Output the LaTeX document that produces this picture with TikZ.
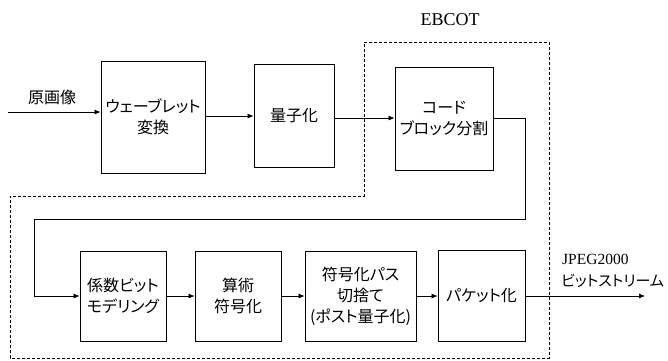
\documentclass[tikz,border=0pt]{standalone}
\usepackage{fontspec}
\setmainfont{Liberation Serif}
\newfontfamily\jp[RawFeature=+palt]{Noto Sans CJK JP}
\usetikzlibrary{arrows.meta}
\begin{document}
\begin{tikzpicture}[x=1pt,y=-1pt,
  blk/.style={draw,line width=0.8pt,inner sep=0pt,align=center,font=\jp\fontsize{16}{21}\selectfont},
  conn/.style={line width=0.7pt,-{Latex[length=6pt,width=5pt]}},
  lbl/.style={inner sep=0pt,font=\jp\fontsize{16}{20}\selectfont},
  ebc/.style={draw,line width=0.7pt,dash pattern=on 3pt off 2pt}]
\useasboundingbox (0,0) rectangle (668,360);
% EBCOT region
\draw[ebc] (364,42) -- (549,42) -- (549,358) -- (10,358) -- (10,196) -- (364,196) -- cycle;
\node[inner sep=0pt,font=\fontsize{18}{20}\selectfont] (ebt) at (450,20) {EBCOT};
% boxes
\node[blk,minimum width=104,minimum height=112] (wav) at (153,117) {ウェーブレット\\変換};
\node[blk,minimum width=80,minimum height=103] (qnt) at (294,115.5) {量子化};
\node[blk,minimum width=98,minimum height=103] (cbk) at (444,118.5) {コード\\ブロック分割};
\node[blk,minimum width=86,minimum height=90] (coef) at (123,296) {係数ビット\\モデリング};
\node[blk,minimum width=86,minimum height=90] (arith) at (238,296) {算術\\符号化};
\node[blk,minimum width=111,minimum height=90] (pass) at (360.5,296) {符号化パス\\切捨て\\(ポスト量子化)};
\node[blk,minimum width=87,minimum height=91] (pkt) at (481.5,296) {パケット化};
% input
\coordinate (in) at (8,112);
\node[lbl] (src) at (52,97) {原画像};
\draw[conn] (in) -- (in -| wav.west);
\draw[conn] (wav.east |- 0,116) -- (qnt.west |- 0,116);
\draw[conn] (qnt.east |- 0,118) -- (cbk.west |- 0,118);
% loop
\coordinate (r1) at (525,219);
\coordinate (l1) at (34,219);
\draw[conn] (cbk.east) -| (r1) -- (l1) |- (coef.west);
\draw[conn] (coef) -- (arith);
\draw[conn] (arith) -- (pass);
\draw[conn] (pass) -- (pkt);
\coordinate (out) at (645,296);
\draw[conn] (pkt) -- (out);
\node[inner sep=0pt,anchor=west,font=\fontsize{15.5}{18}\selectfont] (jp2) at (562,259) {JPEG2000};
\node[inner sep=0pt,anchor=west,font=\jp\fontsize{15}{18}\selectfont] (bs) at (561,281) {ビットストリーム};
\end{tikzpicture}
\end{document}
